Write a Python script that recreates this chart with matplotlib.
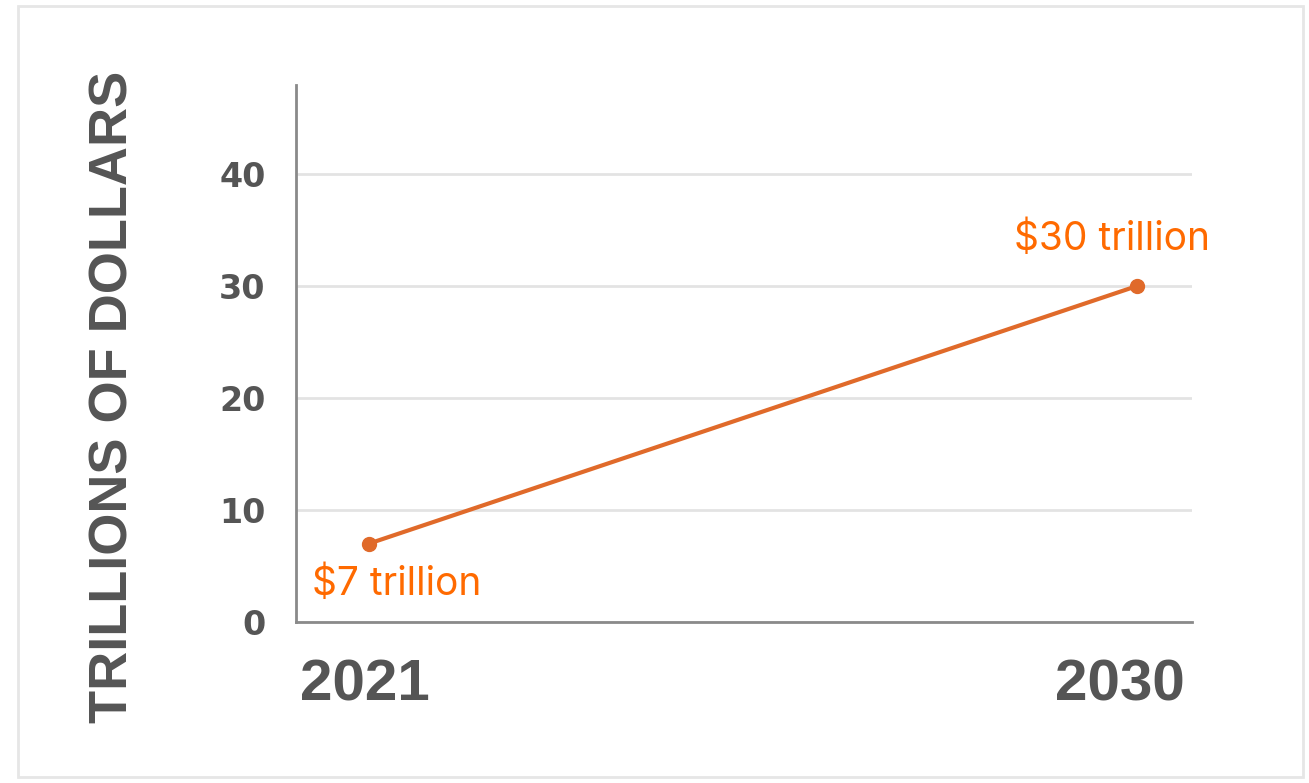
import matplotlib
matplotlib.use("Agg")
import matplotlib.pyplot as plt
import matplotlib.transforms as mtransforms
from matplotlib.patches import Rectangle

# Data
years = ["2021", "2030"]
values = [7, 30]
labels = ["$7 trillion", "$30 trillion"]
yticks = [0, 10, 20, 30, 40]
ylabel = "TRILLIONS OF DOLLARS"

W, H = 1309, 783
fig = plt.figure(figsize=(W / 100, H / 100), dpi=100)

# outer light border
fig.patches.append(Rectangle((18 / W, 1 - 777 / H), (1303 - 18) / W, (777 - 6) / H,
                             transform=fig.transFigure, fill=False,
                             edgecolor="#e6e6e6", linewidth=2))

ax = fig.add_axes([296 / W, 1 - 622 / H, (1192 - 296) / W, (622 - 85) / H])
x = list(range(len(years)))
line_color = "#E06A2A"
text_color = "#FF6A00"
gray = "#555555"

ax.plot(x, values, color=line_color, linewidth=3, marker="o", markersize=10,
        zorder=3, solid_capstyle="round")

ax.set_xlim(-0.095, 1.0716)
ax.set_ylim(0, 47.95)
ax.set_yticks(yticks)
ax.set_yticklabels([str(v) for v in yticks])
ax.set_xticks(x)
ax.set_xticklabels(years)

for s in ["top", "right"]:
    ax.spines[s].set_visible(False)
for s in ["left", "bottom"]:
    ax.spines[s].set_color("#8a8a8a")
    ax.spines[s].set_linewidth(2)

ax.grid(axis="y", color="#e3e3e3", linewidth=2)
ax.set_axisbelow(True)
ax.tick_params(axis="both", length=0)
ax.tick_params(axis="y", pad=22, labelsize=24, labelcolor=gray)
ax.tick_params(axis="x", pad=26, labelsize=42, labelcolor=gray)
for t in ax.get_yticklabels():
    t.set_fontfamily("DejaVu Sans")
    t.set_fontweight("bold")
for t in ax.get_xticklabels():
    t.set_fontfamily("Liberation Sans")
    t.set_fontweight("bold")
# shift the 2021 / 2030 labels slightly, as in the reference
xl = ax.get_xticklabels()
xl[0].set_transform(xl[0].get_transform() + mtransforms.ScaledTranslation(-4 / 100, 0, fig.dpi_scale_trans))
xl[1].set_transform(xl[1].get_transform() + mtransforms.ScaledTranslation(-17 / 100, 0, fig.dpi_scale_trans))

ax.set_ylabel(ylabel, fontsize=39, fontweight="bold", color=gray,
              fontfamily="Liberation Sans", labelpad=0)
ax.yaxis.set_label_coords((139 - 296) / (1192 - 296), (622 - 397) / (622 - 85))

offsets = [(28, -41), (-25, 47)]
for xi, v, lab, (dx, dy) in zip(x, values, labels, offsets):
    ax.annotate(lab, (xi, v), xytext=(dx * 0.72, dy * 0.72), textcoords="offset points",
                ha="center", va="center", fontsize=28, color=text_color,
                fontfamily="Inter")

fig.savefig("out.png", dpi=100, facecolor="white")
